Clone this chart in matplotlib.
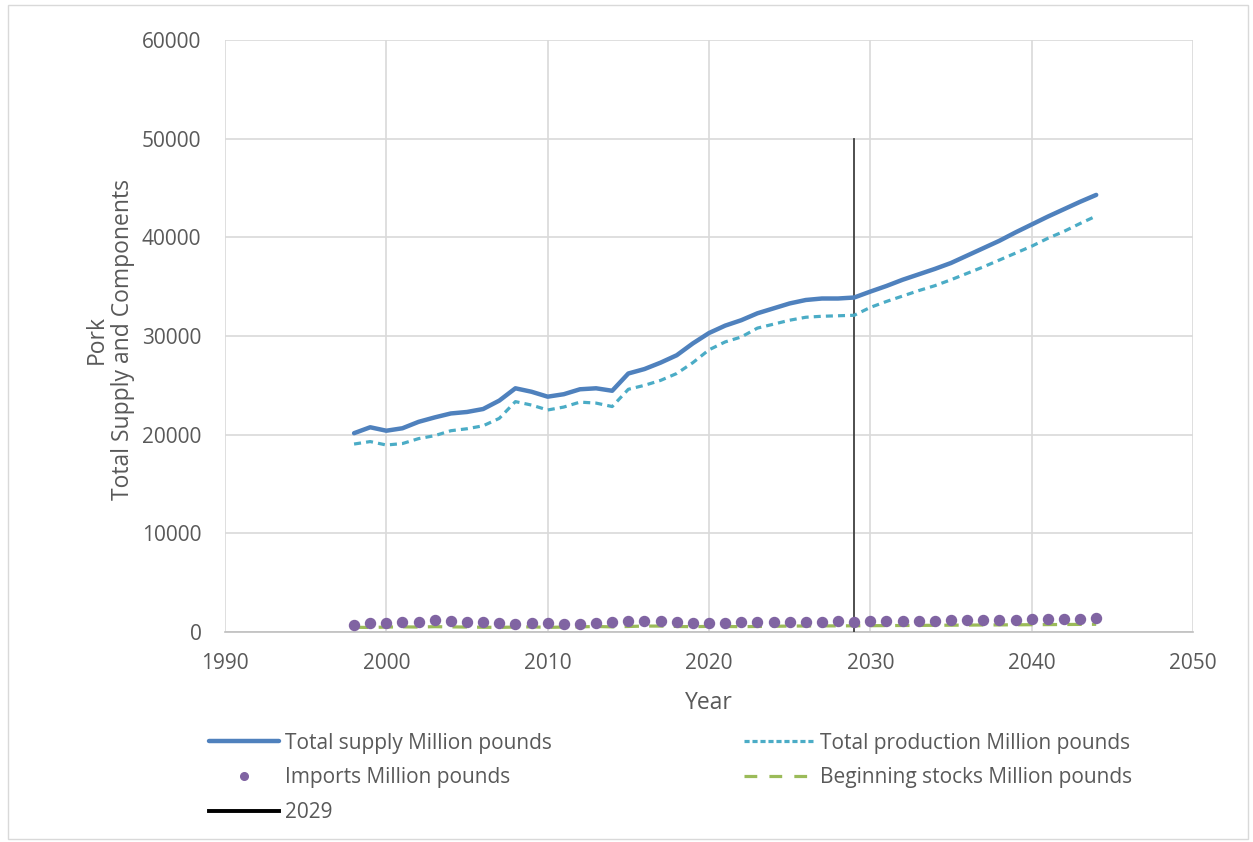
import matplotlib
matplotlib.use("Agg")
import matplotlib.pyplot as plt
from matplotlib.patches import Rectangle
from matplotlib.lines import Line2D

years = list(range(1998, 2045))

total_supply = [20150, 20750, 20400, 20650, 21300, 21750, 22150, 22300, 22600, 23450,
                24700, 24350, 23850, 24100, 24600, 24700, 24450, 26200, 26650, 27300,
                28050, 29250, 30300, 31050, 31600, 32300, 32800, 33300, 33650, 33800,
                33800, 33900, 34500, 35070, 35700, 36250, 36800, 37400, 38150, 38900,
                39650, 40500, 41300, 42100, 42850, 43600, 44300]

total_production = [19050, 19300, 18950, 19100, 19600, 19900, 20400, 20600, 20900, 21650,
                    23350, 23000, 22500, 22800, 23300, 23200, 22850, 24600, 25000, 25500,
                    26200, 27300, 28600, 29400, 29900, 30800, 31200, 31600, 31900, 32000,
                    32050, 32100, 32900, 33500, 34050, 34600, 35100, 35700, 36350, 37000,
                    37700, 38400, 39100, 39900, 40600, 41400, 42160]

imports = [710, 880, 950, 980, 1050, 1220, 1080, 1000, 1000, 950,
           840, 880, 880, 810, 810, 880, 1000, 1110, 1080, 1110,
           1000, 920, 900, 950, 980, 1000, 980, 1000, 1020, 1050,
           1080, 1050, 1080, 1100, 1120, 1140, 1160, 1180, 1200, 1220,
           1240, 1260, 1280, 1300, 1320, 1350, 1380]

beginning_stocks = [480, 460, 500, 520, 500, 540, 520, 500, 480, 470,
                    500, 520, 470, 500, 520, 560, 520, 560, 600, 600,
                    560, 540, 570, 560, 540, 560, 580, 600, 610, 620,
                    620, 630, 640, 650, 660, 670, 680, 690, 700, 710,
                    720, 730, 740, 750, 760, 770, 780]

marker_year = 2029
marker_top = 50000

x_ticks = [1990, 2000, 2010, 2020, 2030, 2040, 2050]
y_ticks = [0, 10000, 20000, 30000, 40000, 50000, 60000]

plt.rcParams['font.family'] = ['Open Sans', 'DejaVu Sans']
txt = '#595959'

W, H = 1253, 842
fig = plt.figure(figsize=(W/100, H/100), dpi=100)
ax = fig.add_axes([225/W, 1-632/H, (1193-225)/W, (632-40)/H])

ax.plot(years, total_supply, color='#4F81BD', lw=3.2, solid_capstyle='round',
        label='Total supply Million pounds', zorder=4)
ax.plot(years, total_production, color='#4BACC6', lw=2.3, linestyle=(0, (2.2, 1.6)),
        label='Total production Million pounds', zorder=4)
ax.plot(years, imports, linestyle='none', marker='o', ms=7.2, color='#8064A2',
        label='Imports Million pounds', zorder=5)
ax.plot(years, beginning_stocks, color='#9BBB59', lw=2.3, linestyle=(0, (4.5, 3.2)),
        label='Beginning stocks Million pounds', zorder=4)
ax.plot([marker_year, marker_year], [0, marker_top], color='#404040', lw=1.3,
        label='2029', zorder=3)

ax.set_xlim(1990, 2050)
ax.set_ylim(0, 60000)
ax.set_xticks(x_ticks)
ax.set_yticks(y_ticks)
ax.grid(True, color='#D9D9D9', lw=1.2)
ax.set_axisbelow(True)
for s in ['top', 'right', 'left']:
    ax.spines[s].set_visible(False)
ax.spines['bottom'].set_color('#BFBFBF')
ax.spines['bottom'].set_linewidth(1.2)
ax.tick_params(length=0, labelsize=15, labelcolor=txt)
ax.tick_params(axis='y', pad=17)
ax.tick_params(axis='x', pad=15)

fig.text(709/W, 1-703/H, 'Year', fontsize=16.5, color=txt, ha='center', va='center')
fig.text(110/W, 1-340/H, 'Pork\nTotal Supply and Components', fontsize=16.5, color=txt,
         ha='center', va='center', rotation=90, linespacing=1.15, multialignment='center')

h, l = ax.get_legend_handles_labels()
h = list(h)
h[1] = Line2D([], [], color='#4BACC6', lw=2.3, linestyle=(0, (1.6, 0.9)))
h[2] = Line2D([], [], linestyle='none', marker='o', ms=5.5, color='#8064A2')
h[3] = Line2D([], [], color='#9BBB59', lw=2.3, linestyle=(0, (4.0, 3.8)))
h[4] = Line2D([], [], color='black', lw=2.8)
order = [0, 2, 4, 1, 3]
leg = fig.legend([h[i] for i in order], [l[i] for i in order], ncol=2,
                 loc='upper left', bbox_to_anchor=(190/W, 1-714/H),
                 frameon=False, fontsize=15, handlelength=3.37, handletextpad=0.29,
                 columnspacing=9.2, labelspacing=0.66, labelcolor=txt)

fig.patches.append(Rectangle((8/W, 3/H), 1240/W, 834/H, transform=fig.transFigure,
                             fill=False, edgecolor='#D9D9D9', lw=1))

fig.savefig('out.png', dpi=100)
